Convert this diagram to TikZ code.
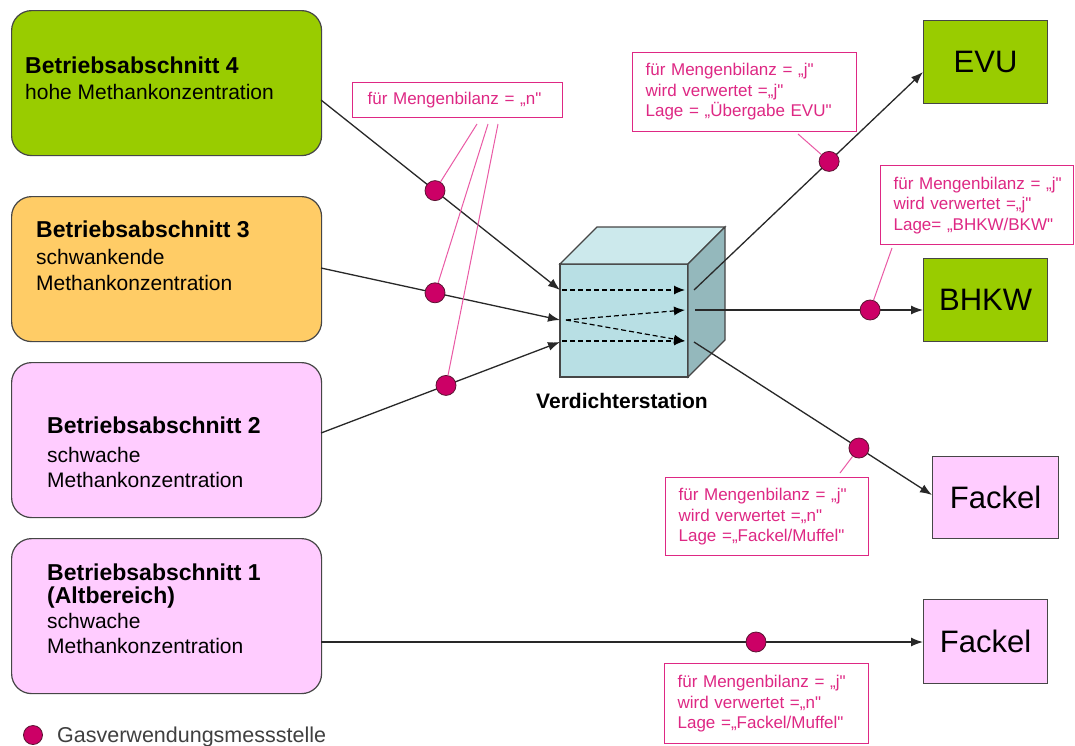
\documentclass[tikz,border=0pt]{standalone}
\usepackage{fontspec}
\setmainfont{Liberation Sans}[Ligatures=TeXOff]
\usetikzlibrary{arrows.meta,calc}
\definecolor{bgreen}{RGB}{153,204,0}
\definecolor{borange}{RGB}{255,204,102}
\definecolor{bpink}{RGB}{255,204,255}
\definecolor{notepink}{RGB}{222,40,132}
\definecolor{linkpink}{RGB}{234,90,165}
\definecolor{dotfill}{RGB}{204,0,102}
\definecolor{dotline}{RGB}{90,20,50}
\definecolor{cubefront}{RGB}{184,223,228}
\definecolor{cubetop}{RGB}{204,233,236}
\definecolor{cuberight}{RGB}{148,184,188}
\definecolor{flowcol}{RGB}{40,40,40}
\definecolor{edgecol}{RGB}{70,70,70}
\begin{document}
\begin{tikzpicture}[x=1pt,y=-1pt,
  areabox/.style={draw=edgecol, line width=1.2pt, rounded corners=20pt, minimum width=310pt, anchor=north west, inner sep=0pt},
  targetbox/.style={draw=edgecol, line width=1.2pt, minimum width=124pt, minimum height=83pt, anchor=north west, inner sep=0pt, font=\fontsize{31}{36}\selectfont},
  notebox/.style={draw=notepink, line width=1.2pt, text=notepink, align=left, anchor=north west, inner xsep=13pt, inner ysep=0pt, font=\fontsize{17}{20.5}\selectfont},
  titletext/.style={anchor=base west, inner sep=0pt, font=\fontsize{23}{26}\selectfont\bfseries},
  subtext/.style={anchor=base west, inner sep=0pt, font=\fontsize{21}{26}\selectfont},
  flowline/.style={draw=flowcol, line width=1.3pt, -{Latex[length=12pt,width=9pt]}},
  innerflow/.style={draw=black, line width=1.2pt, dash pattern=on 5pt off 3pt, -{Latex[length=11pt,width=9pt]}},
  meterdot/.style={circle, fill=dotfill, draw=dotline, line width=0.8pt, minimum size=20pt, inner sep=0pt},
  linkline/.style={draw=linkpink, line width=1pt}
]
\useasboundingbox[fill=white] (0,0) rectangle (1075,745);

% left areas
\node[areabox, fill=bgreen, minimum height=145pt] (ba4) at (11,10) {};
\node[areabox, fill=borange, minimum height=145pt] (ba3) at (11,196) {};
\node[areabox, fill=bpink, minimum height=155pt] (ba2) at (11,362) {};
\node[areabox, fill=bpink, minimum height=155pt] (ba1) at (11,538) {};

\node[titletext] (t4) at (25,73) {Betriebsabschnitt 4};
\node[subtext] (s4) at (25,99) {hohe Methankonzentration};
\node[titletext] (t3) at (36,237) {Betriebsabschnitt 3};
\node[subtext] (s3a) at (36,264) {schwankende};
\node[subtext] (s3b) at (36,290) {Methankonzentration};
\node[titletext] (t2) at (47,433) {Betriebsabschnitt 2};
\node[subtext] (s2a) at (47,462) {schwache};
\node[subtext] (s2b) at (47,487) {Methankonzentration};
\node[titletext] (t1) at (47,580) {Betriebsabschnitt 1};
\node[titletext] (t1b) at (47,603) {(Altbereich)};
\node[subtext] (s1a) at (47,628) {schwache};
\node[subtext] (s1b) at (47,653) {Methankonzentration};

% right targets
\node[targetbox, fill=bgreen] (evu) at (923,20) {EVU};
\node[targetbox, fill=bgreen] (bhkw) at (923,258) {BHKW};
\node[targetbox, fill=bpink, minimum width=126pt, minimum height=82pt] (fackel) at (932,456) {Fackel};
\node[targetbox, fill=bpink, minimum height=84pt] (fackel2) at (923,599) {Fackel};

% compressor cube
\filldraw[fill=cubefront, draw=edgecol, line width=1.2pt] (560,264) rectangle (688,377);
\filldraw[fill=cubetop, draw=edgecol, line width=1.2pt] (560,264) -- (597,227) -- (725,227) -- (688,264) -- cycle;
\filldraw[fill=cuberight, draw=edgecol, line width=1.2pt] (688,264) -- (725,227) -- (725,340) -- (688,377) -- cycle;
\node[anchor=base, inner sep=0pt, font=\fontsize{21}{24}\selectfont\bfseries] (vs) at (622,408) {Verdichterstation};

% coordinates
\coordinate (o4) at (321,100);
\coordinate (o3) at (321,268);
\coordinate (o2) at (321,433);
\coordinate (o1) at (321,642);
\coordinate (in4) at (560,290);
\coordinate (in3) at (560,320);
\coordinate (in2) at (560,342);
\coordinate (a1) at (562,290);
\coordinate (b1) at (685,290);
\coordinate (a2) at (566,320);
\coordinate (b2) at (685,310);
\coordinate (a3) at (562,341);
\coordinate (b3) at (685,341);
\coordinate (out4) at (694,290);
\coordinate (out3) at (695,310);
\coordinate (out2) at (694,342);
\coordinate (evuin) at (923,72);
\coordinate (fackin) at (932,495);

% inner dashed flows
\draw[innerflow] (a1) -- (b1);
\draw[innerflow] (a2) -- (b2);
\draw[innerflow] (a2) -- (b3);
\draw[innerflow] (a3) -- (b3);

% flows with meters
\draw[flowline] (o4) -- node[meterdot, pos=0.477] (d1) {} (in4);
\draw[flowline] (o3) -- node[meterdot, pos=0.477] (d2) {} (in3);
\draw[flowline] (o2) -- node[meterdot, pos=0.523] (d3) {} (in2);
\draw[flowline] (out4) -- node[meterdot, pos=0.59] (d4) {} (evuin);
\draw[flowline] (out3) -- node[meterdot, pos=0.768] (d5) {} (out3 -| bhkw.west);
\draw[flowline] (out2) -- node[meterdot, pos=0.693] (d6) {} (fackin);
\draw[flowline] (o1) -- node[meterdot, pos=0.7226] (d7) {} (o1 -| fackel2.west);

% notes
\node[notebox, text width=180pt, inner xsep=15pt, minimum height=35pt] (nn) at (352,82) {für Mengenbilanz = „n"};
\node[notebox, text width=198pt, minimum height=79pt] (nevu) at (632,52) {für Mengenbilanz = „j"\\wird verwertet =„j"\\Lage = „Übergabe EVU"};
\node[notebox, text width=173pt, inner xsep=10pt, minimum height=79pt] (nbhkw) at (880,165) {\hspace*{3pt}für Mengenbilanz = „j"\\\hspace*{3pt}wird verwertet =„j"\\\hspace*{3pt}Lage= „BHKW/BKW"};
\node[notebox, text width=177pt, minimum height=78pt] (nf) at (665,477) {für Mengenbilanz = „j"\\wird verwertet =„n"\\Lage =„Fackel/Muffel"};
\node[notebox, text width=178pt, minimum height=80pt] (nf2) at (664,663) {für Mengenbilanz = „j"\\wird verwertet =„n"\\Lage =„Fackel/Muffel"};

% pink links
\coordinate (l1) at (477,124);
\coordinate (l2) at (488,124);
\coordinate (l3) at (498,124);
\coordinate (le) at (798,134);
\coordinate (lb) at (892,248);
\coordinate (lf) at (840,473);
\draw[linkline] (l1) -- (d1);
\draw[linkline] (l2) -- (d2);
\draw[linkline] (l3) -- (d3);
\draw[linkline] (le) -- (d4);
\draw[linkline] (lb) -- (d5);
\draw[linkline] (lf) -- (d6);

% legend
\node[meterdot, minimum size=19pt] (legdot) at (33,735) {};
\node[anchor=base west, inner sep=0pt, text=black!75, font=\fontsize{21.5}{24}\selectfont] (legtext) at (57,742) {Gasverwendungsmessstelle};
\end{tikzpicture}
\end{document}
